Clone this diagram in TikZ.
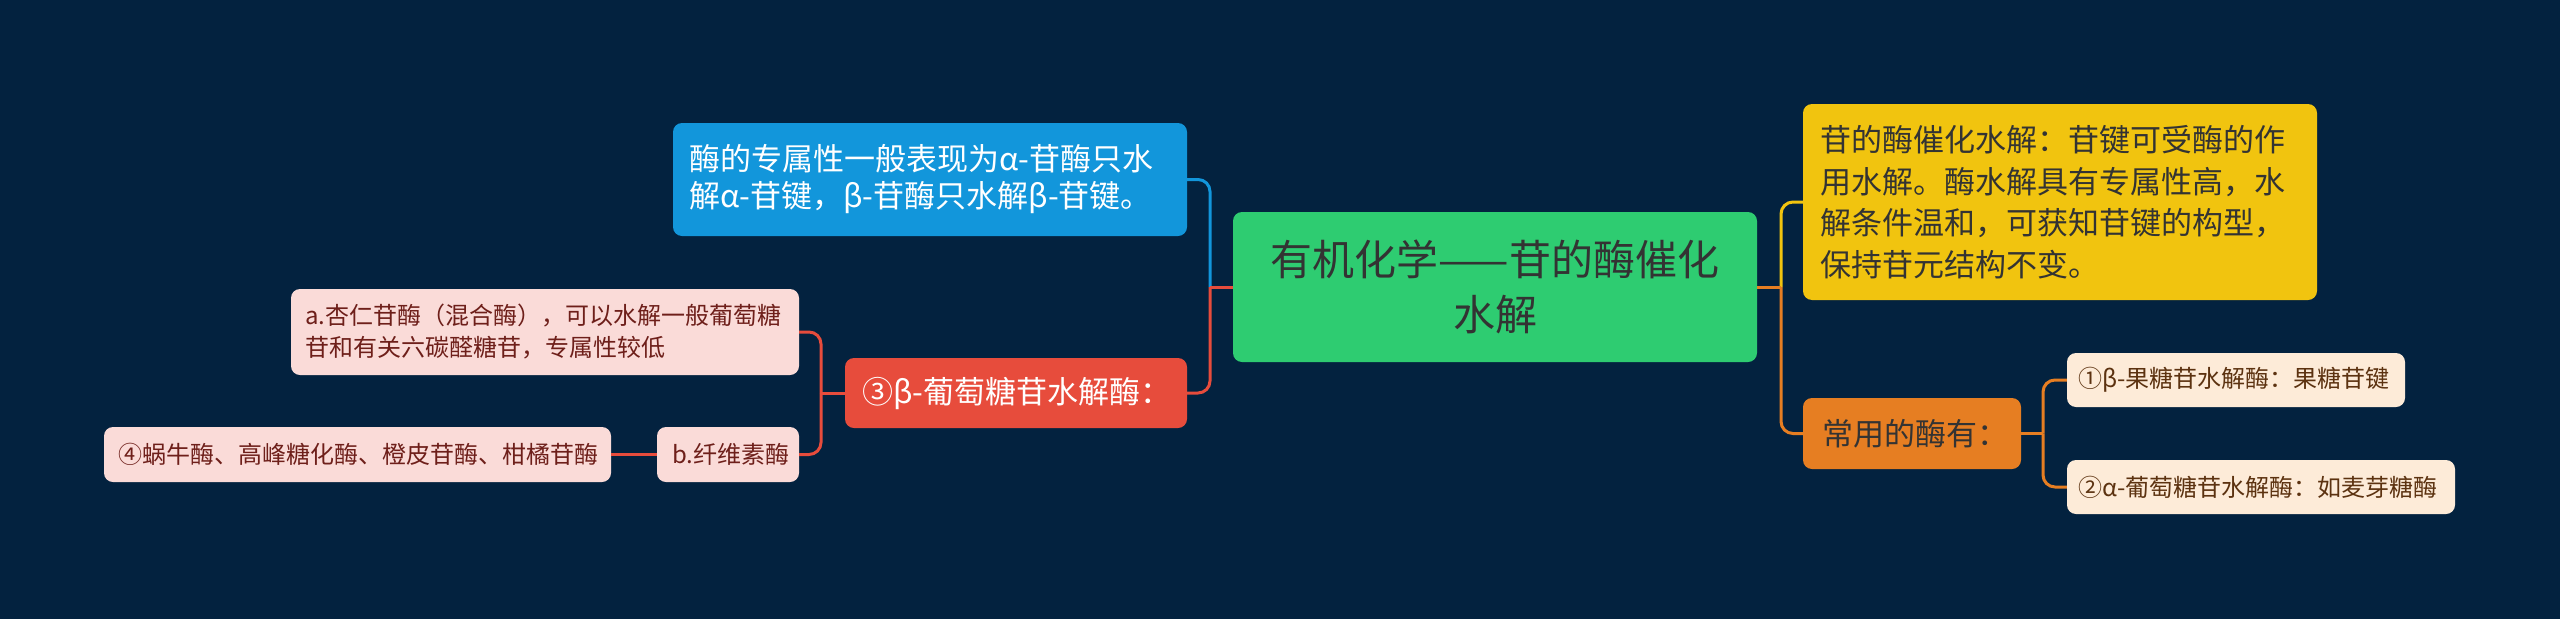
\documentclass[tikz,border=0pt]{standalone}
\usepackage{fontspec}
\setmainfont{Noto Sans CJK SC}

\definecolor{bgnavy}{HTML}{03223F}
\definecolor{greenbox}{HTML}{2ECC71}
\definecolor{bluebox}{HTML}{1296DB}
\definecolor{redbox}{HTML}{E74C3C}
\definecolor{yellowbox}{HTML}{F1C40F}
\definecolor{orangebox}{HTML}{E67E22}
\definecolor{pinkleaf}{HTML}{FADBD8}
\definecolor{creamleaf}{HTML}{FDEBD8}
\definecolor{pinktext}{HTML}{6E1F1A}
\definecolor{creamtext}{HTML}{5C3210}
\definecolor{darktext}{HTML}{333333}

\begin{document}
\begin{tikzpicture}[
    x=1pt, y=-1pt,
    topic/.style={
        rounded corners=9pt,
        inner ysep=0pt,
        align=left
    },
    leaf/.style={
        topic,
        font=\fontsize{24}{32}\selectfont
    },
    link/.style={
        line width=3pt,
        rounded corners=12pt
    }
]

% Background
\fill[bgnavy] (0,0) rectangle (2560,619);
\useasboundingbox (0,0) rectangle (2560,619);

% Central topic
\node[topic, fill=greenbox, text=darktext, align=center, inner xsep=20pt,
      text width=484pt, minimum height=150pt,
      font=\fontsize{42}{55}\selectfont] (title) at (1495,287)
      {有机化学——苷的酶催化\\水解};

% Left side - main branches
\node[topic, fill=bluebox, text=white, inner xsep=16pt, text width=482pt,
      minimum height=113pt, font=\fontsize{31}{37}\selectfont] (specific) at (930,179.5)
      {\mbox{酶的专属性一般表现为α-苷酶只水}\\\mbox{解α-苷键，β-苷酶只水解β-苷键。}};

\node[topic, fill=redbox, text=white, inner xsep=17pt, text width=308pt,
      minimum height=70pt, font=\fontsize{31}{37}\selectfont] (glucosidase) at (1016,393)
      {\mbox{③β-葡萄糖苷水解酶：}};

% Left side - leaves
\node[leaf, fill=pinkleaf, text=pinktext, inner xsep=14pt, text width=480pt,
      minimum height=86pt] (emulsin) at (545,332)
      {a.杏仁苷酶（混合酶），可以水解一般葡萄糖\\苷和有关六碳醛糖苷，专属性较低};

\node[leaf, fill=pinkleaf, text=pinktext, inner xsep=15pt, text width=112pt,
      minimum height=55pt] (cellulase) at (728,454.5) {b.纤维素酶};

\node[leaf, fill=pinkleaf, text=pinktext, inner xsep=14pt, text width=479pt,
      minimum height=55pt] (snail) at (357.5,454.5)
      {④蜗牛酶、高峰糖化酶、橙皮苷酶、柑橘苷酶};

% Right side - main branches
\node[topic, fill=yellowbox, text=darktext, inner xsep=17pt, text width=480pt,
      minimum height=196pt, font=\fontsize{31}{41.5}\selectfont] (hydrolysis) at (2060,202)
      {苷的酶催化水解：苷键可受酶的作\\用水解。酶水解具有专属性高，水\\解条件温和，可获知苷键的构型，\\保持苷元结构不变。};

\node[topic, fill=orangebox, text=darktext, inner xsep=19pt, text width=180pt,
      minimum height=71pt, font=\fontsize{31}{37}\selectfont] (common) at (1912,433.5)
      {常用的酶有：};

% Right side - leaves
\node[leaf, fill=creamleaf, text=creamtext, inner xsep=11pt, text width=316pt,
      minimum height=54pt] (fructo) at (2236,380)
      {\mbox{①β-果糖苷水解酶：果糖苷键}};

\node[leaf, fill=creamleaf, text=creamtext, inner xsep=11pt, text width=366pt,
      minimum height=54pt] (maltase) at (2261,487)
      {\mbox{②α-葡萄糖苷水解酶：如麦芽糖酶}};

% Junction points
\coordinate (jleft) at (1210,287);
\coordinate (jright) at (1781,287);
\coordinate (jred) at (821,393);
\coordinate (jorange) at (2043,433.5);

% Connectors - left
\draw[link, bluebox] (jleft) |- (specific.east);
\draw[link, redbox] (jleft) |- (glucosidase.east);
\draw[link, redbox] (title.west) -- (jleft);

\draw[link, redbox] (jred) |- (emulsin.east);
\draw[link, redbox] (jred) |- (cellulase.east);
\draw[link, redbox] (glucosidase.west) -- (jred);
\draw[link, redbox] (cellulase.west) -- (snail.east);

% Connectors - right
\draw[link, yellowbox] (jright) |- (hydrolysis.west);
\draw[link, orangebox] (jright) |- (common.west);
\draw[link, orangebox] (title.east) -- (jright);

\draw[link, orangebox] (jorange) |- (fructo.west);
\draw[link, orangebox] (jorange) |- (maltase.west);
\draw[link, orangebox] (common.east) -- (jorange);

\end{tikzpicture}
\end{document}
